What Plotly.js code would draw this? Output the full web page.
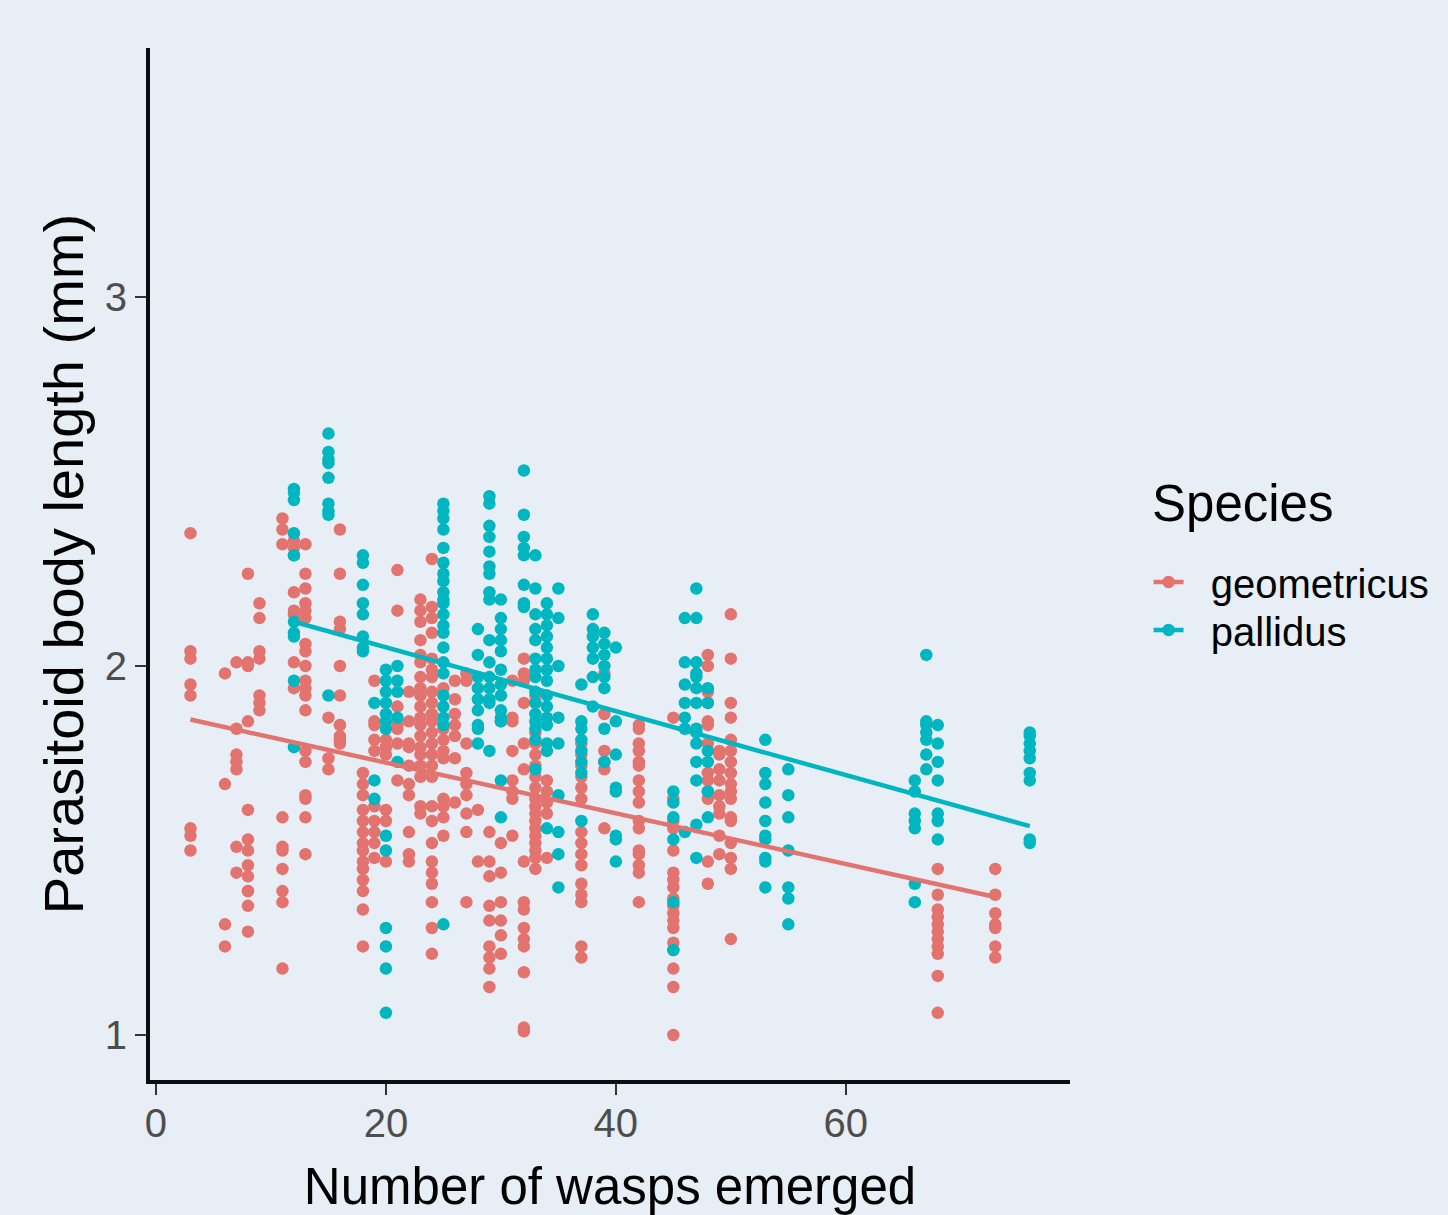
<!DOCTYPE html>
<html>
<head>
<meta charset="utf-8">
<script src="https://cdn.plot.ly/plotly-3.0.1.min.js"></script>
<style>html,body{margin:0;padding:0;background:#E8EEF5;}#chart{width:1448px;height:1215px;}</style>
</head>
<body>
<div id="chart"></div>
<script>
// ---- data: Parasitoid body length (mm) by number of wasps emerged ----
const geoCols = [3, 6, 7, 8, 9, 11, 12, 13, 15, 16, 18, 19, 20, 21, 22, 23, 24, 25, 26, 27, 28, 29, 30, 31, 32, 33, 34, 37, 39, 42, 45, 48, 49, 50, 68, 73];
const geoVals = [
  [2.36, 2.04, 2.02, 1.95, 1.92, 1.56, 1.54, 1.50],
  [1.98, 1.68, 1.30, 1.24],
  [2.01, 1.83, 1.76, 1.74, 1.72, 1.51, 1.44],
  [2.25, 2.01, 2.00, 1.85, 1.61, 1.53, 1.50, 1.46, 1.43, 1.39, 1.39, 1.35, 1.28],
  [2.17, 2.13, 2.04, 2.02, 1.92, 1.90, 1.88],
  [2.40, 2.37, 2.33, 1.59, 1.51, 1.50, 1.45, 1.39, 1.36, 1.18],
  [2.34, 2.32, 2.30, 2.20, 2.15, 2.14, 2.01, 1.94],
  [2.33, 2.25, 2.21, 2.17, 2.15, 2.13, 2.06, 2.04, 2.00, 1.96, 1.94, 1.92, 1.88, 1.77, 1.74, 1.65, 1.64, 1.59, 1.49],
  [1.86, 1.75, 1.72],
  [2.37, 2.25, 2.12, 2.10, 2.00, 1.92, 1.84, 1.84, 1.81, 1.80, 1.79],
  [1.71, 1.68, 1.65, 1.61, 1.58, 1.55, 1.52, 1.50, 1.47, 1.45, 1.42, 1.39, 1.34, 1.24],
  [1.96, 1.85, 1.84, 1.80, 1.77, 1.62, 1.58, 1.55, 1.52, 1.48],
  [1.80, 1.78, 1.76, 1.61, 1.58, 1.47],
  [2.26, 2.15, 1.89, 1.84, 1.83, 1.79, 1.69],
  [1.93, 1.85, 1.79, 1.78, 1.73, 1.68, 1.65, 1.55, 1.49, 1.47],
  [2.18, 2.15, 2.12, 2.07, 2.03, 2.01, 1.97, 1.94, 1.92, 1.89, 1.86, 1.84, 1.81, 1.78, 1.76, 1.73, 1.70, 1.62, 1.60],
  [2.29, 2.16, 2.13, 2.09, 2.02, 1.99, 1.97, 1.93, 1.90, 1.87, 1.85, 1.82, 1.79, 1.76, 1.73, 1.70, 1.62, 1.58, 1.52, 1.47, 1.44, 1.41, 1.36, 1.29, 1.22],
  [1.94, 1.83, 1.80, 1.77, 1.75, 1.64, 1.62, 1.59, 1.54],
  [1.96, 1.91, 1.87, 1.84, 1.81, 1.75, 1.63],
  [1.98, 1.96, 1.79, 1.71, 1.68, 1.65, 1.60, 1.55, 1.36],
  [1.61, 1.47],
  [1.55, 1.47, 1.43, 1.35, 1.31, 1.24, 1.21, 1.18, 1.13],
  [1.85, 1.52, 1.44, 1.36, 1.31, 1.27, 1.22],
  [1.96, 1.86, 1.85, 1.77, 1.69, 1.66, 1.64, 1.54],
  [2.02, 1.98, 1.96, 1.90, 1.79, 1.72, 1.47, 1.36, 1.34, 1.29, 1.26, 1.24, 1.17, 1.02, 1.01],
  [1.92, 1.90, 1.82, 1.79, 1.76, 1.73, 1.70, 1.67, 1.64, 1.62, 1.60, 1.58, 1.56, 1.54, 1.52, 1.50, 1.48, 1.45],
  [1.69, 1.66, 1.63, 1.60, 1.48],
  [1.79, 1.76, 1.73, 1.70, 1.67, 1.64, 1.55, 1.52, 1.49, 1.46, 1.41, 1.38, 1.36, 1.24, 1.21],
  [1.98, 1.87, 1.77, 1.74, 1.72, 1.56],
  [1.84, 1.83, 1.79, 1.77, 1.74, 1.73, 1.69, 1.66, 1.63, 1.58, 1.56, 1.50, 1.49, 1.46, 1.44, 1.36],
  [1.86, 1.64, 1.58, 1.56, 1.50, 1.44, 1.42, 1.40, 1.37, 1.35, 1.33, 1.31, 1.29, 1.25, 1.23, 1.18, 1.13, 1.00],
  [2.03, 2.00, 1.93, 1.90, 1.85, 1.84, 1.79, 1.71, 1.69, 1.66, 1.64, 1.47, 1.41],
  [1.77, 1.76, 1.72, 1.69, 1.65, 1.62, 1.60, 1.54, 1.49],
  [2.14, 2.02, 1.90, 1.86, 1.80, 1.77, 1.74, 1.71, 1.68, 1.66, 1.64, 1.59, 1.58, 1.52, 1.48, 1.45, 1.26],
  [1.45, 1.38, 1.34, 1.32, 1.30, 1.28, 1.26, 1.24, 1.22, 1.16, 1.06],
  [1.45, 1.38, 1.33, 1.30, 1.29, 1.24, 1.21]
];
const palCols = [12, 15, 18, 19, 20, 21, 25, 28, 29, 30, 32, 33, 34, 35, 37, 38, 39, 40, 45, 46, 47, 48, 53, 55, 66, 67, 68, 76];
const palVals = [
  [2.48, 2.47, 2.45, 2.36, 2.30, 2.12, 2.09, 2.08, 1.96, 1.78],
  [2.63, 2.58, 2.56, 2.55, 2.51, 2.44, 2.42, 2.41, 1.92],
  [2.30, 2.28, 2.22, 2.17, 2.14, 2.08, 2.05, 2.04],
  [1.90, 1.69, 1.64],
  [1.99, 1.96, 1.93, 1.90, 1.87, 1.85, 1.83, 1.54, 1.50, 1.29, 1.24, 1.18, 1.06],
  [2.00, 1.96, 1.93, 1.86, 1.74],
  [2.44, 2.42, 2.40, 2.37, 2.32, 2.28, 2.25, 2.23, 2.20, 2.18, 2.17, 2.14, 2.11, 2.09, 2.05, 2.01, 1.98, 1.92, 1.89, 1.86, 1.84, 1.30],
  [2.10, 2.03, 1.97, 1.94, 1.91, 1.88, 1.84, 1.83, 1.79],
  [2.46, 2.44, 2.38, 2.35, 2.31, 2.27, 2.25, 2.20, 2.18, 2.07, 2.01, 1.97, 1.94, 1.91, 1.90, 1.77],
  [2.18, 2.13, 2.10, 2.07, 2.04, 1.99, 1.95, 1.92, 1.88, 1.86, 1.85, 1.69, 1.59],
  [2.53, 2.41, 2.35, 2.32, 2.30, 2.22, 2.17, 2.16],
  [2.30, 2.21, 2.14, 2.10, 2.07, 2.02, 1.99, 1.97, 1.93, 1.90, 1.87, 1.85, 1.83, 1.80, 1.72],
  [2.17, 2.14, 2.11, 2.08, 2.05, 2.02, 1.99, 1.96, 1.92, 1.89, 1.86, 1.84, 1.79, 1.77, 1.56],
  [2.21, 2.13, 2.00, 1.86, 1.79, 1.65, 1.55, 1.49, 1.40],
  [1.95, 1.85, 1.83, 1.80, 1.77, 1.74, 1.71, 1.58],
  [2.14, 2.10, 2.08, 2.05, 2.02, 1.97, 1.89],
  [2.09, 2.06, 2.03, 2.00, 1.97, 1.94, 1.83, 1.74],
  [2.05, 1.85, 1.76, 1.67, 1.66, 1.54, 1.53, 1.47],
  [1.66, 1.63, 1.59, 1.53, 1.36, 1.23],
  [2.13, 2.01, 1.95, 1.90, 1.86, 1.83, 1.55],
  [2.21, 2.13, 2.01, 1.98, 1.97, 1.94, 1.90, 1.83, 1.82, 1.79, 1.74, 1.69, 1.57, 1.48],
  [1.94, 1.90, 1.77, 1.74, 1.66, 1.59],
  [1.80, 1.71, 1.68, 1.63, 1.58, 1.54, 1.53, 1.48, 1.47, 1.40],
  [1.72, 1.65, 1.59, 1.50, 1.40, 1.37, 1.30],
  [1.69, 1.66, 1.60, 1.58, 1.56, 1.41, 1.36],
  [2.03, 1.85, 1.84, 1.82, 1.80, 1.76, 1.72],
  [1.84, 1.79, 1.74, 1.69, 1.60, 1.58, 1.53],
  [1.82, 1.81, 1.79, 1.77, 1.75, 1.71, 1.69, 1.53, 1.52]
];
// fitted regression lines (endpoints)
const geoFitX = [3, 73];
const geoFitY = [1.855, 1.374];
const palFitX = [12, 76];
const palFitY = [2.12, 1.566];
const xTicks = [0, 20, 40, 60];
const yTicks = [1, 2, 3];
const speciesNames = ['geometricus', 'pallidus'];

function flatten(cols, vals) {
  const xs = [], ys = [];
  cols.forEach((c, i) => vals[i].forEach(v => { xs.push(c); ys.push(v); }));
  return {xs, ys};
}
const geo = flatten(geoCols, geoVals);
const pal = flatten(palCols, palVals);

const RED = '#E3736F';
const TEAL = '#00B6C1';
const BG = '#E8EEF5';
const FONT = 'Liberation Sans, Arial, sans-serif';
const MS = 12.5;
const LW = 4.5;
const PAD = '\u00a0\u00a0';

const traces = [
  {x: geo.xs, y: geo.ys, type: 'scatter', mode: 'markers', marker: {color: RED, size: MS}, showlegend: false},
  {x: pal.xs, y: pal.ys, type: 'scatter', mode: 'markers', marker: {color: TEAL, size: MS}, showlegend: false},
  {x: geoFitX, y: geoFitY, type: 'scatter', mode: 'lines', line: {color: RED, width: LW}, showlegend: false},
  {x: palFitX, y: palFitY, type: 'scatter', mode: 'lines', line: {color: TEAL, width: LW}, showlegend: false},
  {x: [null], y: [null], type: 'scatter', mode: 'lines+markers', name: PAD + speciesNames[0], legend: 'legend',
   line: {color: RED, width: LW}, marker: {color: RED, size: MS}},
  {x: [null], y: [null], type: 'scatter', mode: 'lines+markers', name: PAD + speciesNames[1], legend: 'legend2',
   line: {color: TEAL, width: LW}, marker: {color: TEAL, size: MS}}
];

const axisCommon = {
  showgrid: false, zeroline: false, showline: true, linecolor: '#0B0D14', linewidth: 4,
  ticks: 'outside', ticklen: 11, tickwidth: 2.5, tickcolor: '#333333',
  tickfont: {family: FONT, size: 40, color: '#4D4D4D'}
};

const legendCommon = {
  x: 1.0854, xanchor: 'left', yanchor: 'middle',
  bgcolor: 'rgba(0,0,0,0)', borderwidth: 0, itemwidth: 30,
  font: {family: FONT, size: 40, color: '#000000'}
};

const layout = {
  width: 1448, height: 1215,
  margin: {l: 150, r: 378, t: 48, b: 135, pad: 0, autoexpand: false},
  paper_bgcolor: BG, plot_bgcolor: BG,
  font: {family: FONT, color: '#000000'},
  xaxis: Object.assign({}, axisCommon, {
    range: [-0.52, 79.5], tickvals: xTicks, ticktext: xTicks.map(String),
    ticklabelstandoff: -6,
    title: {text: 'Number of wasps emerged', font: {family: FONT, size: 51, color: '#000000'}, standoff: 26}
  }),
  yaxis: Object.assign({}, axisCommon, {
    range: [0.878, 3.675], tickvals: yTicks, ticktext: yTicks.map(String),
    title: {text: 'Parasitoid body length (mm)', font: {family: FONT, size: 56, color: '#000000'}, standoff: 4}
  }),
  legend: Object.assign({}, legendCommon, {y: (1080 - 582) / 1032}),
  legend2: Object.assign({}, legendCommon, {y: (1080 - 630) / 1032}),
  annotations: [{
    text: 'Species', xref: 'paper', yref: 'paper', x: 1.087, y: (1080 - 503) / 1032,
    xanchor: 'left', yanchor: 'middle', showarrow: false,
    font: {family: FONT, size: 51, color: '#000000'}
  }],
  showlegend: true
};

Plotly.newPlot('chart', traces, layout, {staticPlot: true, displayModeBar: false});
</script>
</body>
</html>
